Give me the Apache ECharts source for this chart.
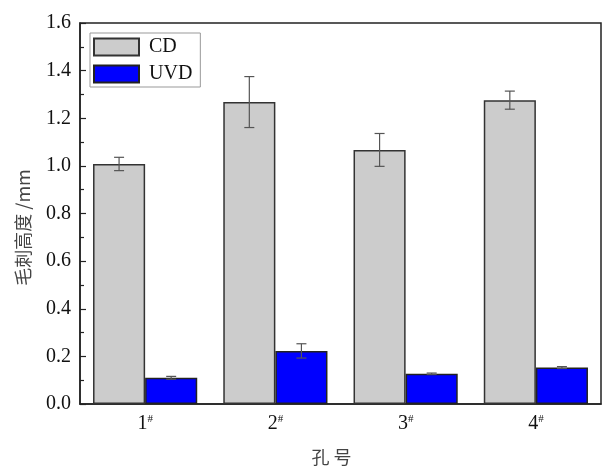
<!DOCTYPE html>
<html lang="zh-CN">
<head>
<meta charset="UTF-8">
<title>毛刺高度</title>
<script src="https://cdn.jsdelivr.net/npm/echarts@6/dist/echarts.min.js"></script>
<style>
  html, body { margin: 0; padding: 0; background: #fff; }
</style>
</head>
<body>
<div id="main" style="width: 603px; height: 471px;"></div>
<script type="text/javascript">
// 数据
var holes = ['1', '2', '3', '4'];
var cdValues = [1.008, 1.268, 1.067, 1.276];
var cdErrors = [0.028, 0.107, 0.069, 0.038];
var uvdValues = [0.110, 0.223, 0.127, 0.153];
var uvdErrors = [0.006, 0.030, 0.003, 0.004];
var yTicks = [0, 0.2, 0.4, 0.6, 0.8, 1.0, 1.2, 1.4, 1.6];

var serif = '"Liberation Serif", "Times New Roman", serif';
var cjk = '"Noto Sans CJK SC", sans-serif';

var myChart = echarts.init(document.getElementById('main'));

// 误差棒: side = -1 左侧柱, +1 右侧柱
function errorBar(values, errors, side) {
  var data = values.map(function (v, i) { return [i, v, errors[i]]; });
  return {
    type: 'custom',
    z: 5,
    silent: true,
    data: data,
    renderItem: function (params, api) {
      var idx = api.value(0);
      var v = api.value(1);
      var e = api.value(2);
      var bandW = api.size([1, 0])[0];
      var barW = bandW * 0.8 / 2;
      var c = api.coord([idx, v]);
      var x = c[0] + side * barW / 2;
      var top = api.coord([idx, v + e])[1];
      var bot = api.coord([idx, v - e])[1];
      var cap = 5;
      var st = { stroke: '#555', lineWidth: 1.2 };
      return {
        type: 'group',
        children: [
          { type: 'line', shape: { x1: x, y1: top, x2: x, y2: bot }, style: st },
          { type: 'line', shape: { x1: x - cap, y1: top, x2: x + cap, y2: top }, style: st },
          { type: 'line', shape: { x1: x - cap, y1: bot, x2: x + cap, y2: bot }, style: st }
        ]
      };
    }
  };
}

var option = {
  animation: false,
  grid: {
    left: 80, right: 2, top: 23, bottom: 66,
    show: true, borderColor: '#222', borderWidth: 1.5
  },
  legend: {
    orient: 'vertical',
    left: 90, top: 33,
    data: ['CD', 'UVD'],
    icon: 'rect',
    itemWidth: 45, itemHeight: 17,
    itemGap: 7,
    padding: [4, 8, 3, 3],
    borderColor: '#999', borderWidth: 1,
    textStyle: { fontFamily: serif, fontSize: 20, color: '#111', padding: [0, 0, 0, 5] }
  },
  xAxis: {
    type: 'category',
    data: holes,
    name: '孔 号',
    nameLocation: 'middle',
    nameGap: 44,
    nameTextStyle: { fontFamily: cjk, fontSize: 18, color: '#444', padding: [0, 18, 0, 0] },
    axisLine: { lineStyle: { color: '#222', width: 1.5 } },
    axisTick: { show: false },
    axisLabel: {
      margin: 10,
      formatter: function (v) { return '{n|' + v + '}{s|#}'; },
      rich: {
        n: { fontFamily: serif, fontSize: 20, color: '#111' },
        s: { fontFamily: serif, fontSize: 11, color: '#111', verticalAlign: 'top', padding: [0, 0, 8, 0] }
      }
    }
  },
  yAxis: {
    type: 'value',
    min: yTicks[0],
    max: yTicks[yTicks.length - 1],
    interval: 0.2,
    name: '毛刺高度 /mm',
    nameLocation: 'middle',
    nameGap: 48,
    nameRotate: 90,
    nameTextStyle: { fontFamily: cjk, fontSize: 18, color: '#444', padding: [0, 28, 0, 0] },
    axisLine: { show: true, lineStyle: { color: '#222', width: 1.5 } },
    axisTick: { show: true, inside: true, length: 6, lineStyle: { color: '#222', width: 1.2 } },
    minorTick: { show: true, splitNumber: 2, length: 4, lineStyle: { color: '#222', width: 1.2 } },
    splitLine: { show: false },
    axisLabel: {
      margin: 9,
      fontFamily: serif, fontSize: 20, color: '#111',
      formatter: function (v) { return v.toFixed(1); }
    }
  },
  series: [
    {
      name: 'CD',
      type: 'bar',
      data: cdValues,
      barGap: '0%',
      barCategoryGap: '20%',
      itemStyle: { color: '#cccccc', borderColor: '#333', borderWidth: 1.5 }
    },
    {
      name: 'UVD',
      type: 'bar',
      data: uvdValues,
      itemStyle: { color: '#0000ff', borderColor: '#222', borderWidth: 1.5 }
    },
    errorBar(cdValues, cdErrors, -1),
    errorBar(uvdValues, uvdErrors, 1)
  ]
};

// minorTick 需要朝内
option.yAxis.minorTick.inside = true;

myChart.setOption(option);
</script>
</body>
</html>
